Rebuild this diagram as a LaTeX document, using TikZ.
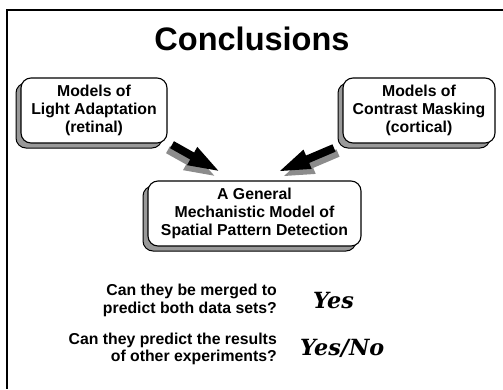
\documentclass[tikz,border=0pt]{standalone}
\usepackage{fontspec}
\setmainfont{Liberation Sans}
\newfontfamily\answerfont{DejaVu Serif}
\usetikzlibrary{calc,shadows}
\definecolor{shadegray}{gray}{0.6}
\definecolor{arrowshade}{gray}{0.55}
\newcommand\boxtext{\bfseries\fontsize{15.8}{17.6}\selectfont}
% fat block arrow from tail #2 to tip #3, filled with options #1
\newcommand\fatarrow[3]{%
  \coordinate (#2-#3-head) at ($(#3)!30pt!(#2)$);
  \fill[#1] ($(#2)!4pt!90:(#3)$) -- ($(#2-#3-head)!4pt!90:(#3)$)
    -- ($(#2-#3-head)!10.5pt!90:(#3)$) -- (#3)
    -- ($(#2-#3-head)!10.5pt!-90:(#3)$) -- ($(#2-#3-head)!4pt!-90:(#3)$)
    -- ($(#2)!4pt!-90:(#3)$) -- cycle;}
\begin{document}
\begin{tikzpicture}[x=1pt,y=-1pt,
  model/.style={draw=black, line width=1.1pt, fill=white, rounded corners=10pt,
    minimum height=65pt, inner sep=0pt, align=center, font=\boxtext,
    general shadow={fill=shadegray, draw=black, line width=1pt,
      shadow xshift=-5pt, shadow yshift=-5pt}},
  question/.style={align=right, font=\boxtext, inner sep=0pt},
  answer/.style={font=\answerfont\bfseries\itshape\fontsize{22.3}{25}\selectfont, inner sep=0pt}]
\useasboundingbox (0,0) rectangle (503,389);
% slide frame
\draw[line width=2.3pt] (503,10) -| (7,389);
% title
\node[font=\bfseries\fontsize{32.5}{36}\selectfont] (title) at (252,39) {Conclusions};
% model boxes
\node[model, minimum width=146pt] (light) at (94,110.5)
  {Models of\\Light Adaptation\\(retinal)};
\node[model, minimum width=152pt] (contrast) at (419,110.5)
  {Models of\\Contrast Masking\\(cortical)};
\node[model, minimum width=213pt] (general) at (254.5,213.5)
  {A General\\Mechanistic Model of\\Spatial Pattern Detection};
% arrow ends
\coordinate (lt) at (172,144.7);
\coordinate (lh) at (218.3,170.7);
\coordinate (rt) at (334,148);
\coordinate (rh) at (280,171);
\begin{scope}[transform canvas={shift={(-4,5)}}]
  \fatarrow{arrowshade}{lt}{lh}
\end{scope}
\begin{scope}[transform canvas={shift={(4,5)}}]
  \fatarrow{arrowshade}{rt}{rh}
\end{scope}
\fatarrow{black}{lt}{lh}
\fatarrow{black}{rt}{rh}
% questions and answers
\node[question, anchor=east] (q1) at (277,300.5)
  {Can they be merged to\\predict both data sets?};
\node[question, anchor=east] (q2) at (277,349)
  {Can they predict the results\\of other experiments?};
\node[answer, anchor=base west] (a1) at (313,308) {Yes};
\node[answer, anchor=base west] (a2) at (300,355) {Yes/No};
\end{tikzpicture}
\end{document}
